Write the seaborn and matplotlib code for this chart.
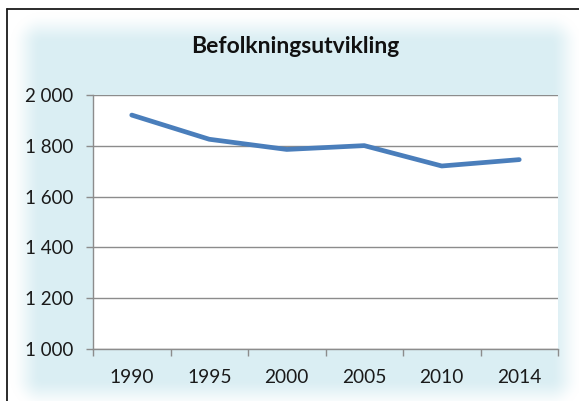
import numpy as np
import matplotlib
matplotlib.use("Agg")
import matplotlib.pyplot as plt
from matplotlib.lines import Line2D
from matplotlib.ticker import FixedLocator
import seaborn as sns

# ---- data ----
years = ["1990", "1995", "2000", "2005", "2010", "2014"]
population = [1920, 1825, 1785, 1800, 1720, 1745]
y_ticks = [1000, 1200, 1400, 1600, 1800, 2000]
y_labels = ["1 000", "1 200", "1 400", "1 600", "1 800", "2 000"]
title = "Befolkningsutvikling"

sns.set_theme(style="white")
plt.rcParams["font.family"] = ["Lato", "DejaVu Sans"]

W, H, DPI = 579, 401, 100
fig = plt.figure(figsize=(W / DPI, H / DPI), dpi=DPI, facecolor="white")

# ---- soft-edged light blue chart panel (background decoration) ----
bg = fig.add_axes([0, 0, 1, 1], zorder=-10)
bg.set_axis_off()
xx, yy = np.meshgrid(np.arange(W) + 0.5, np.arange(H) + 0.5)
x0, x1, y0, y1 = 42, 550, 44, 378
dx = np.maximum(np.maximum(x0 - xx, xx - x1), 0)
dy = np.maximum(np.maximum(y0 - yy, yy - y1), 0)
d = np.hypot(dx, dy)
fade = 32.0
t = np.clip(1 - d / fade, 0, 1)
alpha = t * t * (3 - 2 * t)
panel = np.array([218, 238, 243]) / 255.0
img = np.ones((H, W, 3)) * (1 - alpha[..., None]) + panel * alpha[..., None]
bg.imshow(img, extent=(0, W, H, 0), aspect="auto", interpolation="bilinear")
bg.set_xlim(0, W)
bg.set_ylim(H, 0)

# black frame (left and top edges)
fig.add_artist(Line2D([7 / W, 7 / W], [0, 1 - 9 / H], transform=fig.transFigure,
                      color="#1a1a1a", lw=1.3))
fig.add_artist(Line2D([7 / W, 1], [1 - 9 / H, 1 - 9 / H], transform=fig.transFigure,
                      color="#1a1a1a", lw=1.3))

# ---- plot area ----
left, right = 93 / W, 558 / W
top, bottom = 1 - 94.7 / H, 1 - 349.3 / H
ax = fig.add_axes([left, bottom, right - left, top - bottom])
ax.set_facecolor("white")

grey = "#8c8c8c"
sns.lineplot(x=years, y=population, ax=ax, color="#4A7EBB", linewidth=3.4,
             sort=False, solid_capstyle="round")

ax.set_xlim(-0.5, len(years) - 0.5)
ax.set_ylim(y_ticks[0], y_ticks[-1])
ax.set_yticks(y_ticks)
ax.set_yticklabels(y_labels)
ax.set_xticks(range(len(years)))
ax.set_xticklabels(years)
ax.xaxis.set_minor_locator(FixedLocator(np.arange(len(years) + 1) - 0.5))

ax.grid(axis="y", color=grey, linewidth=1.0)
ax.grid(axis="x", visible=False)
ax.set_axisbelow(True)
ax.set_xlabel("")
ax.set_ylabel("")

for s in ["top", "right"]:
    ax.spines[s].set_visible(False)
for s in ["left", "bottom"]:
    ax.spines[s].set_visible(True)
    ax.spines[s].set_color(grey)
    ax.spines[s].set_linewidth(1.0)

ax.tick_params(axis="y", which="major", direction="out", length=5, width=1.0,
               color=grey, pad=9.4, labelsize=13.5, labelcolor="#1a1a1a", left=True)
ax.tick_params(axis="x", which="major", length=0, pad=14, labelsize=13.8,
               labelcolor="#1a1a1a", bottom=True)
ax.tick_params(axis="x", which="minor", direction="out", length=5, width=1.0,
               color=grey, bottom=True)

fig.text(295 / W, 1 - 53.3 / H, title, ha="center", va="baseline",
         fontsize=16.5, fontweight="bold", color="#111111")

fig.savefig("out.png", dpi=DPI, facecolor="white")
